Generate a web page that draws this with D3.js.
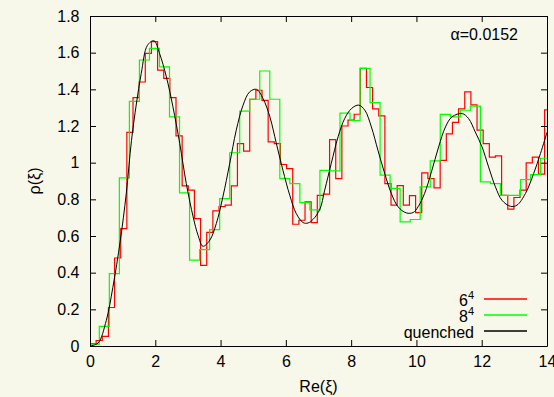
<!DOCTYPE html>
<html>
<head>
<meta charset="utf-8">
<script src="https://cdn.jsdelivr.net/npm/d3@7"></script>
<style>
  html, body { margin: 0; padding: 0; background: #f8f8ea; }
  svg { display: block; font-family: "Liberation Sans", Arial, Helvetica, sans-serif; }
</style>
</head>
<body>
<svg id="chart" width="554" height="397"></svg>
<script>
// Spectral density histograms: 6^4 lattice (red) and 8^4 lattice (green),
// with the quenched prediction (black).
const xTicks = [0, 2, 4, 6, 8, 10, 12, 14];
const xTickLabels = ["0", "2", "4", "6", "8", "10", "12", "14"];
const yTicks = [0, 0.2, 0.4, 0.6, 0.8, 1.0, 1.2, 1.4, 1.6, 1.8];
const yTickLabels = ["0", "0.2", "0.4", "0.6", "0.8", "1", "1.2", "1.4", "1.6", "1.8"];

// 6^4 histogram: bins of equal width starting at binStart6
const binStart6 = 0;
const binWidth6 = 0.1882;
const rho6 = [
  0.013, 0.03, 0.053, 0.21, 0.48, 0.64, 1.165, 1.355, 1.44, 1.596,
  1.66, 1.505, 1.46, 1.355, 1.146, 0.873, 0.85, 0.695, 0.44, 0.62,
  0.737, 0.76, 0.768, 0.873, 1.104, 1.063, 1.346, 1.395, 1.34, 1.113,
  1.104, 0.99, 0.968, 0.664, 0.686, 0.786, 0.673, 0.822, 0.828, 1.126,
  0.913, 1.2, 1.232, 1.264, 1.514, 1.41, 1.293, 1.255, 0.886, 0.768,
  0.875, 0.768, 0.82, 0.727, 0.944, 0.913, 0.862, 1.012, 1.157, 1.22,
  1.293, 1.386, 1.315, 1.177, 1.104, 1.03, 1.037, 0.822, 0.747, 0.81,
  0.85, 0.999, 1.03, 0.938, 1.288
];

// 8^4 histogram
const binStart8 = -0.022;
const binWidth8 = 0.3072;
const rho8 = [
  0.01, 0.107, 0.395, 0.917, 1.334, 1.56, 1.623, 1.523, 1.25, 0.835,
  0.468, 0.526, 0.635, 0.804, 1.054, 1.281, 1.346, 1.50, 1.346, 0.913,
  0.886, 0.782, 0.742, 0.958, 0.955, 1.27, 1.23, 1.514, 1.327, 0.932,
  0.86, 0.677, 0.69, 0.868, 1.01, 1.263, 1.25, 1.286, 1.308, 0.895,
  0.886, 0.822, 0.822, 0.908, 0.935, 1.024
];

// quenched curve
const quenchedX = [
  0, 0.245, 0.5, 0.7, 0.93, 1.11, 1.27, 1.42, 1.57, 1.76, 1.96, 2.13, 2.34,
  2.54, 2.75, 2.95, 3.16, 3.31, 3.46, 3.67, 3.87, 4.07, 4.28, 4.48, 4.69,
  4.89, 5.10, 5.30, 5.51, 5.71, 5.91, 6.12, 6.32, 6.53, 6.68, 6.83, 7.04,
  7.19, 7.39, 7.60, 7.80, 8.01, 8.23, 8.42, 8.62, 8.82, 9.03, 9.23, 9.44,
  9.69, 9.90, 10.05, 10.25, 10.46, 10.68, 10.89, 11.09, 11.40, 11.60, 11.80,
  12.01, 12.21, 12.42, 12.62, 12.88, 13.08, 13.34, 13.59, 13.80, 14.0
];
const quenchedY = [
  0, 0.016, 0.14, 0.32, 0.577, 0.83, 1.12, 1.32, 1.487, 1.64, 1.665, 1.596, 1.468,
  1.305, 1.104, 0.886, 0.704, 0.604, 0.544, 0.577, 0.668, 0.813, 0.995, 1.177, 1.314,
  1.386, 1.40, 1.35, 1.25, 1.104, 0.959, 0.822, 0.722, 0.673, 0.671, 0.69, 0.745,
  0.85, 0.995, 1.141, 1.24, 1.295, 1.314, 1.286, 1.195, 1.068, 0.94, 0.832, 0.759,
  0.726, 0.728, 0.759, 0.832, 0.95, 1.086, 1.195, 1.25, 1.268, 1.24, 1.168,
  1.086, 0.977, 0.868, 0.795, 0.762, 0.768, 0.832, 0.94, 1.05, 1.165
];

const legendLabels = [
  { base: "6", sup: "4", color: "#ff0000" },
  { base: "8", sup: "4", color: "#00ff00" },
  { base: "quenched", sup: "", color: "#000000" }
];
const annotation = "α=0.0152";

const svg = d3.select("#chart");
const margin = { left: 90, right: 547, top: 16, bottom: 346 };

const x = d3.scaleLinear().domain([0, 14]).range([margin.left, margin.right]);
const y = d3.scaleLinear().domain([0, 1.8]).range([margin.bottom, margin.top]);

svg.append("defs").append("clipPath").attr("id", "plotClip")
  .append("rect")
  .attr("x", margin.left).attr("y", margin.top)
  .attr("width", margin.right - margin.left)
  .attr("height", margin.bottom - margin.top);

// step outline for a histogram with uniform bins
function stepPoints(start, width, values) {
  const pts = [[start, 0]];
  values.forEach((v, i) => pts.push([start + i * width, v]));
  pts.push([start + values.length * width, values[values.length - 1]]);
  return pts;
}

const stepLine = d3.line()
  .x(d => x(d[0])).y(d => y(d[1]))
  .curve(d3.curveStepAfter);

const plot = svg.append("g").attr("clip-path", "url(#plotClip)");

plot.append("path")
  .attr("d", stepLine(stepPoints(binStart6, binWidth6, rho6)))
  .attr("fill", "none").attr("stroke", "#ff0000").attr("stroke-width", 1.2);

plot.append("path")
  .attr("d", stepLine(stepPoints(binStart8, binWidth8, rho8)))
  .attr("fill", "none").attr("stroke", "#00ff00").attr("stroke-width", 1.2);

const curveLine = d3.line()
  .x(d => x(d[0])).y(d => y(d[1]))
  .curve(d3.curveCatmullRom.alpha(0.5));

plot.append("path")
  .attr("d", curveLine(quenchedX.map((v, i) => [v, quenchedY[i]])))
  .attr("fill", "none").attr("stroke", "#000000").attr("stroke-width", 1);

// axes with inward ticks on all four sides
const fontSize = 16;
const bottomAxis = d3.axisBottom(x).tickValues(xTicks)
  .tickFormat((d, i) => xTickLabels[i])
  .tickSizeInner(-6).tickSizeOuter(0).tickPadding(10);
const leftAxis = d3.axisLeft(y).tickValues(yTicks)
  .tickFormat((d, i) => yTickLabels[i])
  .tickSizeInner(-6).tickSizeOuter(0).tickPadding(10.5);
const topAxis = d3.axisTop(x).tickValues(xTicks).tickFormat("")
  .tickSizeInner(-6).tickSizeOuter(0);
const rightAxis = d3.axisRight(y).tickValues(yTicks).tickFormat("")
  .tickSizeInner(-6).tickSizeOuter(0);

function styleAxis(g) {
  g.attr("font-size", fontSize).attr("font-family", null);
  g.selectAll("text").attr("fill", "#000");
  g.selectAll("line").attr("stroke", "#000");
  g.select(".domain").attr("stroke", "#000");
}

svg.append("g").attr("transform", `translate(0,${margin.bottom})`).call(bottomAxis).call(styleAxis);
svg.append("g").attr("transform", `translate(${margin.left},0)`).call(leftAxis).call(styleAxis);
svg.append("g").attr("transform", `translate(0,${margin.top})`).call(topAxis).call(styleAxis);
svg.append("g").attr("transform", `translate(${margin.right},0)`).call(rightAxis).call(styleAxis);

// axis titles
svg.append("text")
  .attr("x", (margin.left + margin.right) / 2).attr("y", 392)
  .attr("text-anchor", "middle").attr("font-size", fontSize)
  .text("Re(ξ)");

svg.append("text")
  .attr("transform", `translate(40,${(margin.top + margin.bottom) / 2}) rotate(-90)`)
  .attr("text-anchor", "middle").attr("font-size", fontSize)
  .text("ρ(ξ)");

// coupling annotation
svg.append("text")
  .attr("x", 518).attr("y", 39.5)
  .attr("text-anchor", "end").attr("font-size", fontSize)
  .text(annotation);

// legend
const legend = svg.append("g");
legendLabels.forEach((item, i) => {
  const baseY = 306 + i * 16;
  const t = legend.append("text")
    .attr("x", 474).attr("y", baseY)
    .attr("text-anchor", "end").attr("font-size", fontSize)
    .attr("fill", "#000");
  t.append("tspan").text(item.base);
  if (item.sup) {
    t.append("tspan").attr("font-size", 11).attr("dy", -7).text(item.sup);
  }
  legend.append("line")
    .attr("x1", 484).attr("x2", 527)
    .attr("y1", baseY - 7).attr("y2", baseY - 7)
    .attr("stroke", item.color).attr("stroke-width", 1.5);
});
</script>
</body>
</html>
